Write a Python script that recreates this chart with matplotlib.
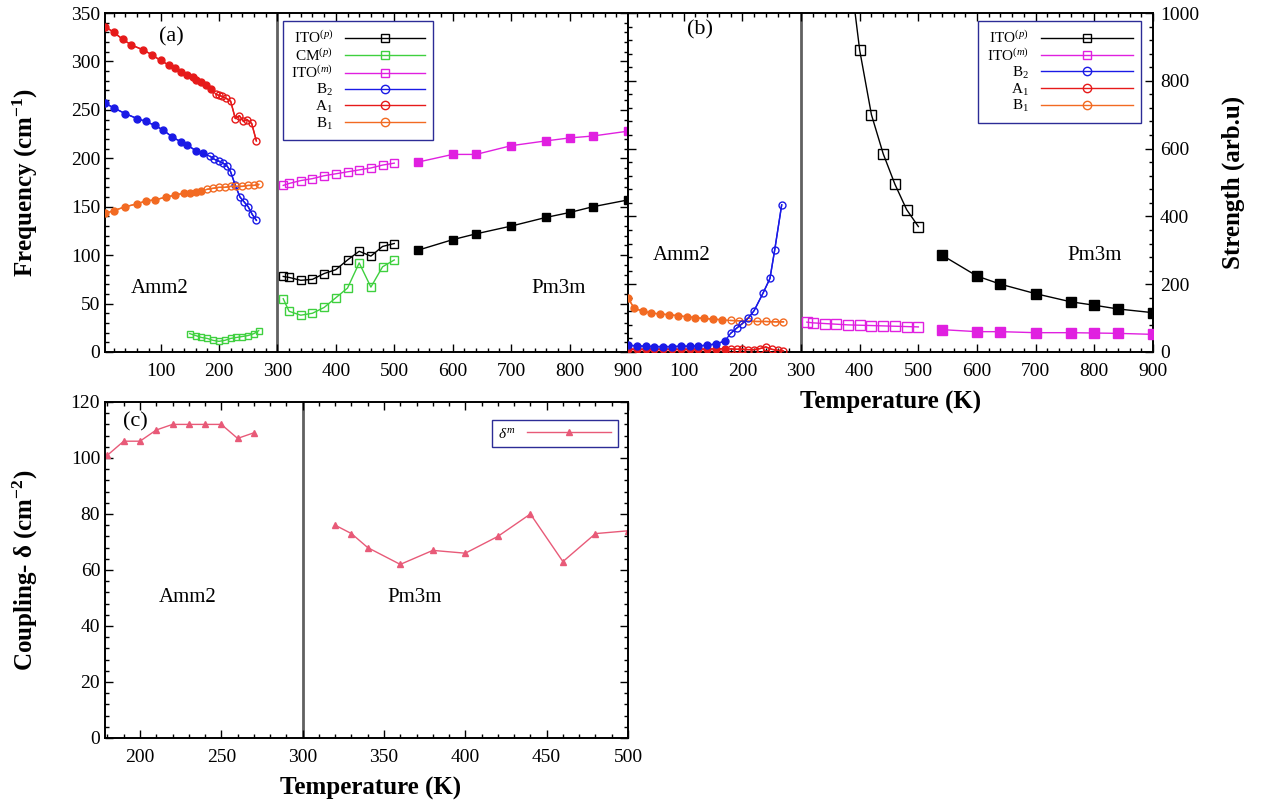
import numpy as np
import matplotlib
matplotlib.use("Agg")
import matplotlib.pyplot as plt
from matplotlib.ticker import MultipleLocator
from matplotlib.lines import Line2D

plt.rcParams.update({
    "font.family": ["Liberation Serif", "DejaVu Serif"],
    "mathtext.fontset": "custom",
    "mathtext.rm": "Liberation Serif",
    "mathtext.it": "Liberation Serif:italic",
    "mathtext.bf": "Liberation Serif:bold",
    "font.size": 14,
})

# ---------------- (a) mode frequencies (cm^-1) ----------------
# Amm2 phase
a1_T_fill = [5, 20, 35, 50, 70, 85, 100, 115, 125, 135, 145, 155, 160, 170, 178, 186]
a1_F_fill = [336, 330, 323, 317, 312, 307, 301, 296, 293, 289, 286, 284, 281, 279, 276, 272]
a1_T_open = [195, 200, 205, 212, 220, 228, 235, 242, 248, 256, 264]
a1_F_open = [266, 265, 264, 262, 259, 241, 244, 238, 240, 236, 218]

b2_T_fill = [5, 20, 40, 60, 75, 90, 105, 120, 135, 145, 160, 172]
b2_F_fill = [257, 252, 246, 241, 238, 234, 229, 222, 217, 214, 208, 205]
b2_T_open = [185, 192, 200, 207, 214, 220, 228, 236, 243, 250, 257, 264]
b2_F_open = [202, 199, 197, 195, 192, 186, 172, 160, 155, 150, 142, 136]

b1_T_fill = [5, 20, 40, 60, 75, 90, 110, 125, 140, 150, 160, 170]
b1_F_fill = [143, 146, 150, 153, 156, 157, 160, 162, 164, 164, 165, 166]
b1_T_open = [180, 190, 200, 210, 220, 230, 240, 250, 260, 268]
b1_F_open = [168, 169, 170, 170, 171, 171, 171, 172, 172, 173]

cm_T_amm2 = [150, 160, 170, 180, 190, 200, 210, 220, 230, 240, 250, 260, 268]
cm_F_amm2 = [19, 17, 15, 14, 12, 11, 12, 14, 15, 16, 17, 19, 22]

# Pm3m phase
pm_T_open = [310, 320, 340, 360, 380, 400, 420, 440, 460, 480, 500]
pm_T_fill = [540, 600, 640, 700, 760, 800, 840, 900]
itop_F_open = [78, 77, 74, 75, 81, 85, 95, 104, 99, 109, 112]
itop_F_fill = [105, 116, 122, 130, 139, 144, 150, 157]
itom_F_open = [172, 174, 177, 179, 182, 184, 186, 188, 190, 193, 195]
itom_F_fill = [196, 204, 204, 213, 218, 221, 223, 228]
cm_F_pm = [55, 42, 38, 40, 46, 56, 66, 92, 67, 88, 95]

# ---------------- (b) mode strengths (arb. u.) ----------------
sb1_T_fill = [5, 15, 30, 45, 60, 75, 90, 105, 120, 135, 150, 165]
sb1_S_fill = [160, 130, 120, 115, 112, 110, 107, 104, 101, 99, 97, 95]
sb1_T_open = [180, 195, 210, 225, 240, 255, 270]
sb1_S_open = [93, 92, 91, 90, 90, 89, 89]

sb2_T_fill = [5, 20, 35, 50, 65, 80, 95, 110, 125, 140, 155, 170]
sb2_S_fill = [20, 18, 17, 16, 16, 16, 17, 17, 18, 20, 24, 32]
sb2_T_open = [180, 190, 200, 210, 220, 235, 247, 255, 267]
sb2_S_open = [55, 70, 84, 100, 122, 173, 217, 300, 434]

sa1_T_fill = [5, 20, 35, 50, 65, 80, 95, 110, 125, 140, 155, 170]
sa1_S_fill = [8, 8, 8, 8, 8, 8, 8, 8, 8, 9, 9, 10]
sa1_T_open = [180, 190, 200, 210, 220, 230, 240, 250, 260, 270]
sa1_S_open = [9, 8, 8, 7, 7, 10, 15, 8, 5, 3]

sitop_T_open = [380, 400, 420, 440, 460, 480, 500]
sitop_S_open = [1170, 890, 700, 585, 495, 420, 370]
sitop_S_fill = [286, 224, 200, 172, 148, 138, 127, 116]
sitom_S_open = [88, 86, 84, 82, 80, 79, 78, 77, 76, 75, 74]
sitom_S_fill = [66, 60, 60, 57, 57, 56, 55, 52]

# ---------------- (c) coupling delta (cm^-2) ----------------
d_T_amm2 = [180, 190, 200, 210, 220, 230, 240, 250, 260, 270]
d_amm2 = [101, 106, 106, 110, 112, 112, 112, 112, 107, 109]
d_T_pm = [320, 330, 340, 360, 380, 400, 420, 440, 460, 480, 500]
d_pm = [76, 73, 68, 62, 67, 66, 72, 80, 63, 73, 74]

C_ITOP = "black"
C_CM = "#3fd03f"
C_ITOM = "#e020e0"
C_B2 = "#1a1ae6"
C_A1 = "#e61a1a"
C_B1 = "#f26a22"
C_D = "#e85a78"
C_LEG = "#2c2c96"
C_SEP = "#606060"

W, H = 1261, 801
fig = plt.figure(figsize=(W / 100, H / 100), dpi=100)


def px_axes(x0, y0, x1, y1):
    return fig.add_axes([x0 / W, 1 - y1 / H, (x1 - x0) / W, (y1 - y0) / H])


ax_a = px_axes(105, 13, 628, 352)
ax_b = px_axes(628, 13, 1153, 352)
ax_c = px_axes(105, 402, 628, 738)


def series(ax, T_f, Y_f, T_o, Y_o, color, marker, ms):
    both = len(T_f) > 0 and len(T_o) > 0
    if both:
        ax.plot(list(T_f) + list(T_o), list(Y_f) + list(Y_o), "-", color=color, lw=1.0, zorder=2)
    ls = "none" if both else "-"
    if len(T_f):
        ax.plot(T_f, Y_f, ls, color=color, lw=1.0, marker=marker, ms=ms,
                mfc=color, mec=color, mew=1.0, zorder=3)
    if len(T_o):
        ax.plot(T_o, Y_o, ls, color=color, lw=1.0, marker=marker, ms=ms,
                mfc="none", mec=color, mew=1.0, zorder=3)


def style(ax, xmaj, xmin, ymaj, ymin):
    ax.xaxis.set_major_locator(MultipleLocator(xmaj))
    ax.xaxis.set_minor_locator(MultipleLocator(xmin))
    ax.yaxis.set_major_locator(MultipleLocator(ymaj))
    ax.yaxis.set_minor_locator(MultipleLocator(ymin))
    ax.tick_params(which="both", direction="in", top=True, right=True, left=True, bottom=True,
                   labelsize=14, width=1.0)
    ax.tick_params(which="major", length=6)
    ax.tick_params(which="minor", length=3)
    ax.tick_params(axis="x", which="major", pad=8)
    for s in ax.spines.values():
        s.set_linewidth(1.4)


def legend(ax, entries, loc, anchor, hl):
    handles = [Line2D([], [], color=c, lw=1.0, marker=m, ms=6, mfc="none", mec=c)
               for _, c, m in entries]
    lg = ax.legend(handles, [l for l, _, _ in entries], loc=loc, bbox_to_anchor=anchor,
                   markerfirst=False, fontsize=11, frameon=True, fancybox=False, framealpha=1,
                   edgecolor=C_LEG, handlelength=hl, labelspacing=0.05, borderpad=0.55,
                   handletextpad=0.8, borderaxespad=0)
    lg.get_frame().set_linewidth(1.0)
    return lg


# ---------------- panel (a) ----------------
ax = ax_a
series(ax, a1_T_fill, a1_F_fill, a1_T_open, a1_F_open, C_A1, "o", 5)
series(ax, b2_T_fill, b2_F_fill, b2_T_open, b2_F_open, C_B2, "o", 5)
series(ax, b1_T_fill, b1_F_fill, b1_T_open, b1_F_open, C_B1, "o", 5)
series(ax, [], [], cm_T_amm2, cm_F_amm2, C_CM, "s", 4)
series(ax, [], [], pm_T_open, itop_F_open, C_ITOP, "s", 6)
series(ax, pm_T_fill, itop_F_fill, [], [], C_ITOP, "s", 6)
series(ax, [], [], pm_T_open, itom_F_open, C_ITOM, "s", 6)
series(ax, pm_T_fill, itom_F_fill, [], [], C_ITOM, "s", 6)
series(ax, [], [], pm_T_open, cm_F_pm, C_CM, "s", 6)
ax.axvline(300, color=C_SEP, lw=2, zorder=1)
ax.set_xlim(5, 900)
ax.set_ylim(0, 350)
style(ax, 100, 20, 50, 10)
ax.set_ylabel(r"Frequency (cm$^{\mathbf{-1}}$)", fontsize=18, fontweight="bold")
ax.yaxis.set_label_coords(-0.125, 0.5)
ax.text(119, 325, "(a)", fontsize=16, ha="center", va="center")
ax.text(99, 66, "Amm2", fontsize=15, ha="center", va="center")
ax.text(781, 66, "Pm3m", fontsize=15, ha="center", va="center")

legend(ax, [
    (r"ITO$^{(p)}$", C_ITOP, "s"),
    (r"CM$^{(p)}$", C_CM, "s"),
    (r"ITO$^{(m)}$", C_ITOM, "s"),
    (r"B$_2$", C_B2, "o"),
    (r"A$_1$", C_A1, "o"),
    (r"B$_1$", C_B1, "o"),
], "upper left", (0.34, 0.975), 5.2)

# ---------------- panel (b) ----------------
ax = ax_b
series(ax, sb1_T_fill, sb1_S_fill, sb1_T_open, sb1_S_open, C_B1, "o", 5)
series(ax, sa1_T_fill, sa1_S_fill, sa1_T_open, sa1_S_open, C_A1, "o", 5)
series(ax, sb2_T_fill, sb2_S_fill, sb2_T_open, sb2_S_open, C_B2, "o", 5)
series(ax, [], [], sitop_T_open, sitop_S_open, C_ITOP, "s", 6.5)
series(ax, pm_T_fill, sitop_S_fill, [], [], C_ITOP, "s", 6.5)
series(ax, [], [], pm_T_open, sitom_S_open, C_ITOM, "s", 6.5)
series(ax, pm_T_fill, sitom_S_fill, [], [], C_ITOM, "s", 6.5)
ax.axvline(300, color=C_SEP, lw=2, zorder=1)
ax.set_xlim(5, 900)
ax.set_ylim(0, 1000)
style(ax, 100, 20, 200, 40)
ax.yaxis.tick_right()
ax.tick_params(which="both", left=True, right=True, labelleft=False, labelright=True)
ax.tick_params(axis="y", which="major", pad=5)
ax.yaxis.set_label_position("right")
ax.set_ylabel("Strength (arb.u)", fontsize=18, fontweight="bold")
ax.yaxis.set_label_coords(1.13, 0.5)
ax.set_xlabel("Temperature (K)", fontsize=18, fontweight="bold")
ax.xaxis.set_label_coords(0.5, -0.115)
ax.text(128, 950, "(b)", fontsize=16, ha="center", va="center")
ax.text(97, 286, "Amm2", fontsize=15, ha="center", va="center")
ax.text(801, 286, "Pm3m", fontsize=15, ha="center", va="center")

legend(ax, [
    (r"ITO$^{(p)}$", C_ITOP, "s"),
    (r"ITO$^{(m)}$", C_ITOM, "s"),
    (r"B$_2$", C_B2, "o"),
    (r"A$_1$", C_A1, "o"),
    (r"B$_1$", C_B1, "o"),
], "upper right", (0.977, 0.975), 6.0)

# ---------------- panel (c) ----------------
ax = ax_c
ax.plot(d_T_amm2, d_amm2, "-", color=C_D, lw=1.0, marker="^", ms=5, mfc=C_D, mec=C_D)
ax.plot(d_T_pm, d_pm, "-", color=C_D, lw=1.0, marker="^", ms=5, mfc=C_D, mec=C_D,
        label=r"$\delta^{m}$")
ax.axvline(300, color=C_SEP, lw=2, zorder=1)
ax.set_xlim(178.5, 500)
ax.set_ylim(0, 120)
style(ax, 50, 10, 20, 4)
ax.set_ylabel("Coupling- δ (cm$^{\\mathbf{-2}}$)", fontsize=18, fontweight="bold")
ax.yaxis.set_label_coords(-0.125, 0.5)
ax.set_xlabel("Temperature (K)", fontsize=18, fontweight="bold")
ax.xaxis.set_label_coords(0.507, -0.115)
ax.text(197, 113, "(c)", fontsize=16, ha="center", va="center")
ax.text(229.5, 50, "Amm2", fontsize=15, ha="center", va="center")
ax.text(369, 50, "Pm3m", fontsize=15, ha="center", va="center")
lg = ax.legend(loc="upper right", bbox_to_anchor=(0.98, 0.945), markerfirst=False, fontsize=11,
               frameon=True, fancybox=False, framealpha=1, edgecolor=C_LEG, handlelength=5.5,
               borderpad=0.4, handletextpad=0.8, borderaxespad=0)
lg.get_frame().set_linewidth(1.0)

fig.savefig("out.png", dpi=100)
